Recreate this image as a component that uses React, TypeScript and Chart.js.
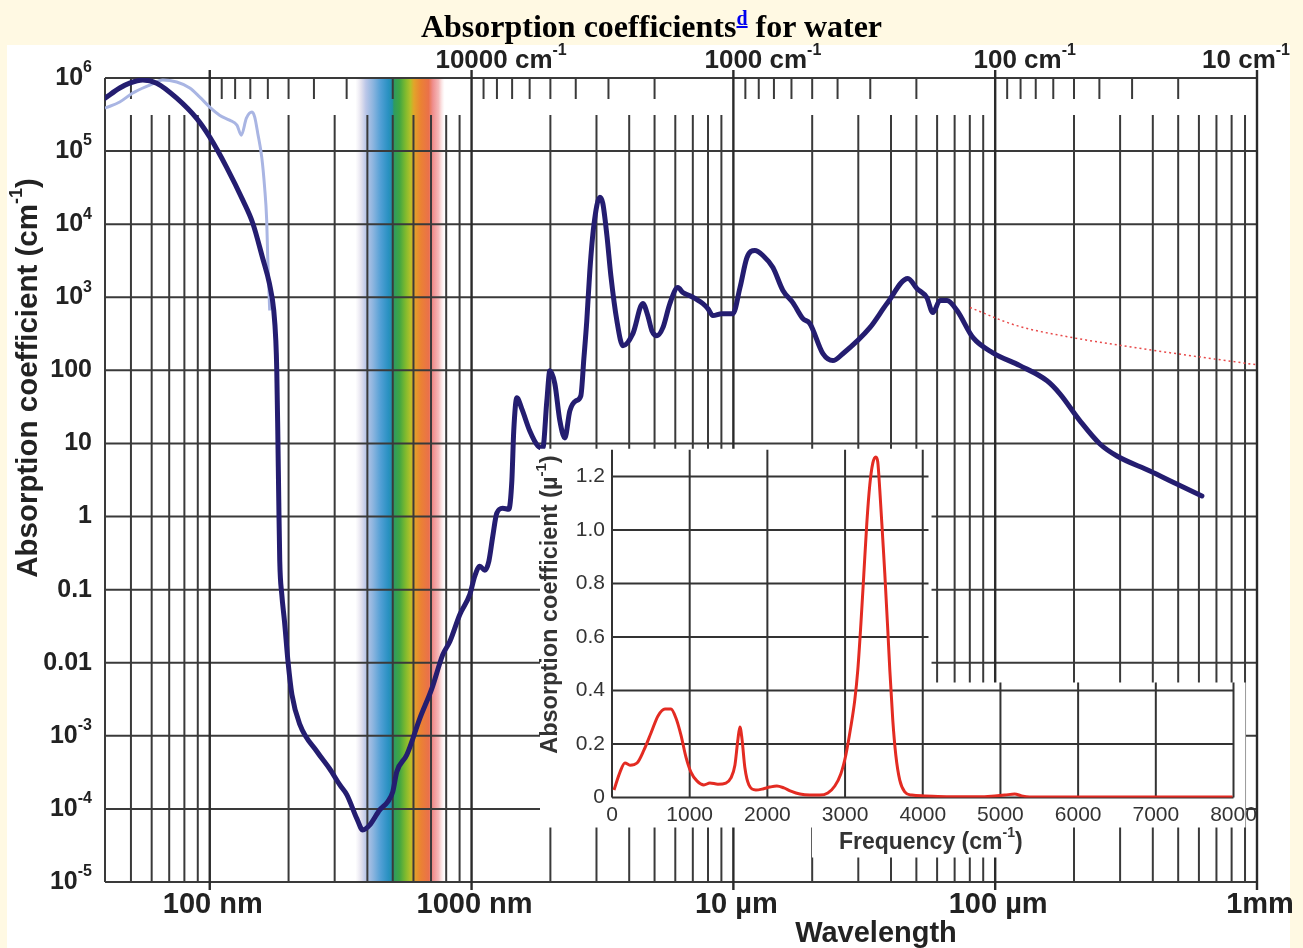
import React, { useEffect, useRef } from 'react';
import { Chart, registerables } from 'chart.js';

Chart.register(...registerables);

const SANS = '"Liberation Sans", Arial, Helvetica, sans-serif';

// ---------------- main chart data (wavelength in nm, absorption in cm^-1) ----------------
const mainWavelengthNm = [
  39.8, 45.3, 49.4, 55.5, 62.7, 74.8, 89.1, 100, 116, 134, 146, 159, 169, 175.6, 178.8, 180.3, 181.9, 183.5,
  185.1, 188.4, 193, 199, 206, 221, 257, 287, 314, 334, 365, 384, 408, 446, 478, 500, 518, 566, 634, 705,
  777, 826, 902, 985, 1028, 1075, 1124, 1164, 1205, 1248, 1315, 1387, 1425, 1449, 1489, 1556, 1669, 1791,
  1871, 1939, 1991, 2080, 2174, 2271, 2373, 2501, 2614, 2685, 2755, 2830, 2931, 3090, 3171, 3288, 3404,
  3589, 3784, 4131, 4509, 4712, 4883, 5102, 5380, 5720, 6138, 6412, 6823, 7647, 7990, 8350, 9040, 9955,
  10600, 11270, 12080, 12970, 14160, 15460, 16870, 18430, 19600, 21980, 23990, 26180, 33220, 38600, 46400,
  50200, 54800, 57800, 61500, 65500, 71500, 82300, 98000, 124300, 157800, 176700, 210800, 251300, 291800,
  390000, 494000, 616000,
];
const mainAbsorption = [
  5.3e5, 7.3e5, 8.5e5, 9.4e5, 8.5e5, 5.3e5, 2.8e5, 1.55e5, 6.0e4, 2.1e4, 1.03e4, 3.5e3, 1.54e3, 658, 255, 98.6,
  14.8, 1.63, 0.244, 0.0863, 0.0367, 0.0104, 0.00366, 0.00142, 6.05e-4, 3.54e-4, 2.13e-4, 1.56e-4, 7.3e-5,
  5.15e-5, 6.0e-5, 9.7e-5, 1.25e-4, 1.71e-4, 3.22e-4, 5.5e-4, 1.72e-3, 4.43e-3, 0.013, 0.0195, 0.0458,
  0.0863, 0.152, 0.209, 0.184, 0.244, 0.538, 1.11, 1.3, 1.26, 3.06, 14.8, 42.1, 29.7, 14.8, 9.24, 8.67,
  38.3, 98.6, 65.5, 20.4, 11.9, 27.9, 38.3, 44.8, 145, 479, 2320, 9600, 23300, 19300, 7000, 1990, 479, 217,
  318, 820, 561, 349, 298, 384, 820, 1360, 1160, 1050, 820, 700, 561, 597, 597, 1360, 3500, 4370, 3730,
  2550, 1240, 845, 510, 436, 169, 136, 169, 384, 820, 1810, 1320, 991, 617, 902, 902, 658, 280, 174, 116,
  72, 47.8, 20.4, 9.84, 6.74, 4.2, 2.78, 1.91,
];

// second (lighter) UV curve
const uvWavelengthNm = [
  39.8, 45.3, 50.8, 59.0, 66.1, 74.8, 83.9, 91.6, 100, 109, 119, 127, 132, 138, 145, 148.5, 152.5, 158, 162,
  165, 166.5, 169.4,
];
const uvAbsorption = [
  3.87e5, 4.69e5, 6.23e5, 8.0e5, 9.4e5, 8.8e5, 7.3e5, 5.48e5, 4.0e5, 3.1e5, 2.65e5, 2.27e5, 1.65e5, 2.82e5,
  3.42e5, 2.92e5, 1.76e5, 8.2e4, 3.2e4, 1.13e4, 3.5e3, 658,
];

// dotted far-infrared curve
const farIrWavelengthNm = [80100, 121000, 198000, 308000, 494000, 1000000];
const farIrAbsorption = [723, 409, 280, 217, 169, 119];

// ---------------- inset data (frequency in cm^-1, absorption in µ^-1) ----------------
const insetFrequency = [
  26, 103, 167, 232, 322, 412, 502, 592, 682, 759, 823, 887, 952, 1016, 1093, 1183, 1260, 1363, 1466, 1531,
  1582, 1620, 1646, 1672, 1711, 1762, 1852, 1942, 2032, 2122, 2212, 2302, 2418, 2547, 2675, 2778, 2868,
  2945, 3010, 3074, 3125, 3164, 3203, 3241, 3280, 3318, 3357, 3396, 3421, 3447, 3486, 3511, 3550, 3576,
  3614, 3653, 3704, 3768, 3858, 4026, 4347, 4733, 4926, 5055, 5183, 5273, 5376, 6276, 7987,
];
const insetAbsorption = [
  0.028, 0.095, 0.129, 0.121, 0.129, 0.178, 0.241, 0.305, 0.331, 0.331, 0.297, 0.234, 0.151, 0.095, 0.062,
  0.047, 0.054, 0.05, 0.054, 0.073, 0.121, 0.215, 0.264, 0.222, 0.11, 0.047, 0.028, 0.032, 0.039, 0.043,
  0.036, 0.024, 0.013, 0.009, 0.009, 0.017, 0.043, 0.088, 0.159, 0.264, 0.364, 0.477, 0.645, 0.832, 1.026,
  1.168, 1.25, 1.273, 1.254, 1.15, 0.963, 0.84, 0.626, 0.477, 0.29, 0.159, 0.065, 0.021, 0.009, 0.006,
  0.003, 0.003, 0.006, 0.009, 0.013, 0.006, 0.002, 0.002, 0.002,
];

// ---------------- ticks / labels ----------------
const yTickValues = [1e6, 1e5, 1e4, 1e3, 100, 10, 1, 0.1, 0.01, 1e-3, 1e-4, 1e-5];
const yTickLabels = ['10^6', '10^5', '10^4', '10^3', '100', '10', '1', '0.1', '0.01', '10^-3', '10^-4', '10^-5'];
const wavelengthMajorNm = [100, 1000, 10000, 100000, 1000000];
const wavelengthTickLabels = ['100 nm', '1000 nm', '10 \u00B5m', '100 \u00B5m', '1mm'];
const wavenumberMajor = [10000, 1000, 100, 10];
const wavenumberTickLabels = ['10000 cm^-1', '1000 cm^-1', '100 cm^-1', '10 cm^-1'];
const minorMultipliers = [2, 3, 4, 5, 6, 7, 8, 9];
const wavelengthDecadesNm = [10, 100, 1000, 10000, 100000];
const wavenumberDecades = [10, 100, 1000, 10000, 100000];

const insetFreqTicks = [0, 1000, 2000, 3000, 4000, 5000, 6000, 7000, 8000];
const insetAbsTicks = [0, 0.2, 0.4, 0.6, 0.8, 1.0, 1.2];
const insetAbsTickLabels = ['0', '0.2', '0.4', '0.6', '0.8', '1.0', '1.2'];
const insetNotchFreq = 4100;
const insetNotchAbs = 0.43;

// visible-spectrum band
const bandWavelengthNm = [360, 378, 395, 420, 450, 480, 498, 505, 530, 560, 585, 602, 640, 685, 712, 750, 790];
const bandColors = [
  'rgba(235,232,242,0)', '#E4E2EE', '#BAC6E8', '#8DB5DF', '#519FD5', '#2A91C2', '#2090A8', '#2E9B60',
  '#3FA543', '#80BA2E', '#B5C02A', '#E2A42A', '#EB8233', '#EA714A', '#EF8F8F', '#F5BBBB', 'rgba(250,225,225,0)',
];

// ---------------- helpers ----------------
type Part = { t: string; sup: boolean };
function parseRich(s: string): Part[] {
  const out: Part[] = [];
  let i = 0;
  while (i < s.length) {
    const c = s.indexOf('^', i);
    if (c < 0) {
      out.push({ t: s.slice(i), sup: false });
      break;
    }
    if (c > i) out.push({ t: s.slice(i, c), sup: false });
    const e = s.indexOf('|', c + 1);
    const end = e < 0 ? s.length : e;
    out.push({ t: s.slice(c + 1, end), sup: true });
    i = e < 0 ? s.length : e + 1;
  }
  return out;
}

function richWidths(ctx: CanvasRenderingContext2D, parts: Part[], size: number, weight: string) {
  const supSize = Math.round(size * 0.62);
  return parts.map((p) => {
    ctx.font = `${weight} ${p.sup ? supSize : size}px ${SANS}`;
    return ctx.measureText(p.t).width;
  });
}

function drawRich(
  ctx: CanvasRenderingContext2D,
  s: string,
  x: number,
  y: number,
  size: number,
  weight: string,
  color: string,
  align: 'left' | 'center' | 'right'
) {
  const parts = parseRich(s);
  const supSize = Math.round(size * 0.62);
  const widths = richWidths(ctx, parts, size, weight);
  const total = widths.reduce((a, b) => a + b, 0);
  let cx = align === 'left' ? x : align === 'center' ? x - total / 2 : x - total;
  ctx.textAlign = 'left';
  ctx.textBaseline = 'middle';
  ctx.fillStyle = color;
  parts.forEach((p, k) => {
    ctx.font = `${weight} ${p.sup ? supSize : size}px ${SANS}`;
    ctx.fillText(p.t, cx, p.sup ? y - size * 0.4 : y);
    cx += widths[k];
  });
  return total;
}

function vline(ctx: CanvasRenderingContext2D, x: number, y0: number, y1: number) {
  ctx.beginPath();
  ctx.moveTo(x, y0);
  ctx.lineTo(x, y1);
  ctx.stroke();
}
function hline(ctx: CanvasRenderingContext2D, y: number, x0: number, x1: number) {
  ctx.beginPath();
  ctx.moveTo(x0, y);
  ctx.lineTo(x1, y);
  ctx.stroke();
}

// ---------------- plugins ----------------
const mainDecor = {
  id: 'mainDecor',
  beforeDraw(chart: any) {
    const ctx = chart.ctx as CanvasRenderingContext2D;
    ctx.save();
    ctx.fillStyle = '#FFF9E3';
    ctx.fillRect(0, 0, chart.width, chart.height);
    ctx.fillStyle = '#FFFFFF';
    ctx.fillRect(7, 45, 1283, chart.height - 45);
    ctx.restore();
  },
  beforeDatasetsDraw(chart: any) {
    const ctx = chart.ctx as CanvasRenderingContext2D;
    const a = chart.chartArea;
    const xs = chart.scales.x;
    const ys = chart.scales.y;
    ctx.save();
    // visible band
    const bx0 = xs.getPixelForValue(bandWavelengthNm[0]);
    const bx1 = xs.getPixelForValue(bandWavelengthNm[bandWavelengthNm.length - 1]);
    const g = ctx.createLinearGradient(bx0, 0, bx1, 0);
    bandWavelengthNm.forEach((w, i) => {
      g.addColorStop(Math.min(1, Math.max(0, (xs.getPixelForValue(w) - bx0) / (bx1 - bx0))), bandColors[i]);
    });
    ctx.fillStyle = g;
    ctx.fillRect(bx0, a.top, bx1 - bx0, a.bottom - a.top);

    // horizontal decade lines
    ctx.strokeStyle = '#3a3a3a';
    ctx.lineWidth = 2;
    yTickValues.forEach((v) => hline(ctx, ys.getPixelForValue(v), a.left, a.right));

    // wavelength minor lines
    const minorTop = a.top + 37;
    wavelengthDecadesNm.forEach((d) => {
      minorMultipliers.forEach((m) => {
        const w = d * m;
        if (w <= xs.min * 1.03 || w >= xs.max) return;
        vline(ctx, xs.getPixelForValue(w), minorTop, a.bottom);
      });
    });
    // wavenumber minor ticks along the top
    wavenumberDecades.forEach((d) => {
      minorMultipliers.forEach((m) => {
        const w = 1e7 / (d * m);
        if (w <= xs.min * 1.03 || w >= xs.max) return;
        vline(ctx, xs.getPixelForValue(w), a.top, a.top + 21);
      });
    });
    // frame
    vline(ctx, a.left, a.top, a.bottom);
    vline(ctx, a.right, a.top, a.bottom);
    // major lines
    ctx.strokeStyle = '#2a2a2a';
    ctx.lineWidth = 2.4;
    wavelengthMajorNm.forEach((w) => {
      const px = xs.getPixelForValue(w);
      vline(ctx, px, a.top - 8, a.bottom + 8);
    });
    ctx.restore();
  },
  afterDraw(chart: any) {
    const ctx = chart.ctx as CanvasRenderingContext2D;
    const a = chart.chartArea;
    const xs = chart.scales.x;
    const ys = chart.scales.y;
    ctx.save();
    const col = '#222222';
    yTickValues.forEach((v, i) => {
      drawRich(ctx, yTickLabels[i], a.left - 13, ys.getPixelForValue(v), 25, 'bold', col, 'right');
    });
    wavelengthMajorNm.forEach((w, i) => {
      drawRich(ctx, wavelengthTickLabels[i], xs.getPixelForValue(w) + 3, a.bottom + 23, 29, 'bold', col, 'center');
    });
    wavenumberMajor.forEach((k, i) => {
      const label = wavenumberTickLabels[i];
      const num = label.split(' ')[0];
      ctx.font = `bold 26px ${SANS}`;
      const numW = ctx.measureText(num).width;
      const total = richWidths(ctx, parseRich(label), 26, 'bold').reduce((s, b) => s + b, 0);
      let left = xs.getPixelForValue(1e7 / k) - numW / 2;
      if (left + total > 1290) left = 1290 - total;
      drawRich(ctx, label, left, a.top - 17, 26, 'bold', col, 'left');
    });
    // axis titles
    ctx.save();
    ctx.translate(29, 378);
    ctx.rotate(-Math.PI / 2);
    drawRich(ctx, 'Absorption coefficient (cm^-1|)', 0, 0, 29.5, 'bold', col, 'center');
    ctx.restore();
    drawRich(ctx, 'Wavelength', 876, 934, 29, 'bold', col, 'center');
    ctx.restore();
  },
};

const insetDecor = {
  id: 'insetDecor',
  beforeDraw(chart: any) {
    const ctx = chart.ctx as CanvasRenderingContext2D;
    const a = chart.chartArea;
    const xs = chart.scales.x;
    const ys = chart.scales.y;
    const nx = xs.getPixelForValue(insetNotchFreq);
    const ny = ys.getPixelForValue(insetNotchAbs);
    const left = a.left - 72;
    const top = a.top - 1;
    const right = a.right + 12;
    const bottom = a.bottom + 30;
    const lx0 = a.left + 200;
    const lx1 = a.left + 413;
    const lb = a.bottom + 60;
    ctx.save();
    ctx.fillStyle = '#FFFFFF';
    ctx.beginPath();
    ctx.moveTo(left, top);
    ctx.lineTo(nx + 1, top);
    ctx.lineTo(nx + 1, ny);
    ctx.lineTo(right, ny);
    ctx.lineTo(right, bottom);
    ctx.lineTo(lx1, bottom);
    ctx.lineTo(lx1, lb);
    ctx.lineTo(lx0, lb);
    ctx.lineTo(lx0, bottom);
    ctx.lineTo(left, bottom);
    ctx.closePath();
    ctx.fill();
    ctx.restore();
  },
  beforeDatasetsDraw(chart: any) {
    const ctx = chart.ctx as CanvasRenderingContext2D;
    const a = chart.chartArea;
    const xs = chart.scales.x;
    const ys = chart.scales.y;
    const nx = xs.getPixelForValue(insetNotchFreq);
    const ny = ys.getPixelForValue(insetNotchAbs);
    ctx.save();
    ctx.strokeStyle = '#333333';
    ctx.lineWidth = 2;
    insetFreqTicks.forEach((f) => {
      const px = xs.getPixelForValue(f);
      vline(ctx, px, f > insetNotchFreq ? ny : a.top, a.bottom);
    });
    insetAbsTicks.forEach((v) => {
      const py = ys.getPixelForValue(v);
      hline(ctx, py, a.left, py < ny ? nx - 2 : a.right);
    });
    ctx.restore();
  },
  afterDraw(chart: any) {
    const ctx = chart.ctx as CanvasRenderingContext2D;
    const a = chart.chartArea;
    const xs = chart.scales.x;
    const ys = chart.scales.y;
    ctx.save();
    const col = '#333333';
    insetFreqTicks.forEach((f) => {
      drawRich(ctx, String(f), xs.getPixelForValue(f), a.bottom + 18, 21, 'normal', col, 'center');
    });
    insetAbsTicks.forEach((v, i) => {
      drawRich(ctx, insetAbsTickLabels[i], a.left - 7, ys.getPixelForValue(v), 21, 'normal', col, 'right');
    });
    drawRich(ctx, 'Frequency (cm^-1|)', (a.left + a.right) / 2 + 8, a.bottom + 45, 23, 'bold', col, 'center');
    ctx.save();
    ctx.translate(a.left - 61, (a.top + a.bottom) / 2 - 19);
    ctx.rotate(-Math.PI / 2);
    drawRich(ctx, 'Absorption coefficient (\u00B5^-1|)', 0, 0, 23.5, 'bold', col, 'center');
    ctx.restore();
    ctx.restore();
  },
};

const toPoints = (xs: number[], ys: number[]) => xs.map((x, i) => ({ x, y: ys[i] }));

export default function App() {
  const mainRef = useRef<HTMLCanvasElement | null>(null);
  const insetRef = useRef<HTMLCanvasElement | null>(null);

  useEffect(() => {
    if (!mainRef.current || !insetRef.current) return;
    const main = new Chart(mainRef.current, {
      type: 'line',
      data: {
        datasets: [
          {
            data: toPoints(mainWavelengthNm, mainAbsorption),
            borderColor: '#241D70',
            borderWidth: 5,
            pointRadius: 0,
            cubicInterpolationMode: 'monotone',
            borderCapStyle: 'round',
            borderJoinStyle: 'round',
          },
          {
            data: toPoints(uvWavelengthNm, uvAbsorption),
            borderColor: '#A9B5E3',
            borderWidth: 3,
            pointRadius: 0,
            cubicInterpolationMode: 'monotone',
          },
          {
            data: toPoints(farIrWavelengthNm, farIrAbsorption),
            borderColor: '#E84A4A',
            borderWidth: 1.5,
            borderDash: [2, 3],
            pointRadius: 0,
            cubicInterpolationMode: 'monotone',
          },
        ],
      },
      options: {
        animation: false,
        responsive: false,
        maintainAspectRatio: false,
        layout: { padding: { left: 105, right: 46, top: 78, bottom: 66 } },
        plugins: { legend: { display: false }, tooltip: { enabled: false }, title: { display: false } },
        scales: {
          x: { type: 'logarithmic', min: 39.8, max: 1e6, display: false },
          y: { type: 'logarithmic', min: 1e-5, max: 1e6, display: false },
        },
      },
      plugins: [mainDecor],
    } as any);

    const inset = new Chart(insetRef.current, {
      type: 'line',
      data: {
        datasets: [
          {
            data: toPoints(insetFrequency, insetAbsorption),
            borderColor: '#E32B22',
            borderWidth: 3,
            pointRadius: 0,
            cubicInterpolationMode: 'monotone',
          },
        ],
      },
      options: {
        animation: false,
        responsive: false,
        maintainAspectRatio: false,
        layout: { padding: { left: 82, right: 69.5, top: 9.75, bottom: 72.5 } },
        plugins: { legend: { display: false }, tooltip: { enabled: false } },
        scales: {
          x: { type: 'linear', min: 0, max: 8000, display: false },
          y: { type: 'linear', min: 0, max: 1.3, display: false },
        },
      },
      plugins: [insetDecor],
    } as any);

    return () => {
      main.destroy();
      inset.destroy();
    };
  }, []);

  return (
    <div
      style={{
        position: 'fixed',
        left: 0,
        top: 0,
        width: 1303,
        height: 948,
        background: '#FFF9E3',
        overflow: 'hidden',
      }}
    >
      <canvas ref={mainRef} width={1303} height={948} style={{ position: 'absolute', left: 0, top: 0 }} />
      <canvas ref={insetRef} width={773} height={430} style={{ position: 'absolute', left: 530, top: 440 }} />
      <div
        style={{
          position: 'absolute',
          left: 0,
          top: 10,
          width: 1303,
          textAlign: 'center',
          font: 'bold 32px "Liberation Serif", "Times New Roman", serif',
          lineHeight: '32px',
          color: '#000',
          zIndex: 2,
        }}
      >
        Absorption coefficients
        <a
          href="#d"
          style={{ color: '#0000EE', textDecoration: 'underline', fontSize: 20, position: 'relative', top: -12 }}
        >
          d
        </a>{' '}
        for water
      </div>
    </div>
  );
}
